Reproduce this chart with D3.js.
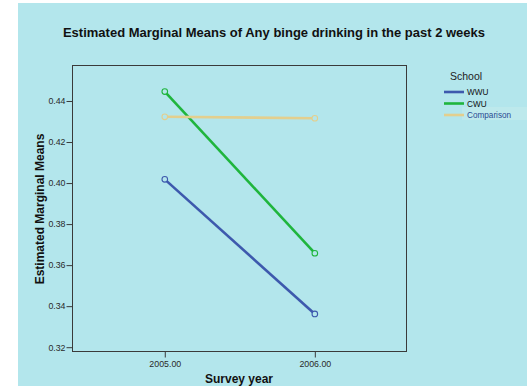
<!DOCTYPE html>
<html>
<head>
<meta charset="utf-8">
<script src="https://cdn.jsdelivr.net/npm/d3@7"></script>
<style>
  html, body { margin: 0; padding: 0; background: #ffffff; }
  svg { display: block; font-family: "Liberation Sans", Arial, sans-serif; }
</style>
</head>
<body>
<svg id="chart" width="527" height="386"></svg>
<script>
// Survey years on the x axis
const years = [2005, 2006];
// Estimated marginal means per school
const wwuValues = [0.4018, 0.3362];
const cwuValues = [0.4446, 0.3658];
const comparisonValues = [0.4323, 0.4316];
const schools = ["WWU", "CWU", "Comparison"];
const schoolColors = ["#3d59ad", "#1fb53d", "#e3cf8e"];
const yTicks = [0.32, 0.34, 0.36, 0.38, 0.40, 0.42, 0.44];
const xTicks = [2005, 2006];

const series = [wwuValues, cwuValues, comparisonValues].map((vals, i) => ({
  name: schools[i],
  color: schoolColors[i],
  points: years.map((yr, j) => ({ year: yr, value: vals[j] }))
}));

const svg = d3.select("#chart");

// panel background
svg.append("rect")
  .attr("x", 18).attr("y", 3)
  .attr("width", 509).attr("height", 383)
  .attr("fill", "#b3e6ec");

const plot = { left: 72.5, right: 406.5, top: 65.5, bottom: 351.5 };

const x = d3.scaleLinear()
  .domain([2004.385, 2006.611])
  .range([plot.left, plot.right]);
const y = d3.scaleLinear()
  .domain([0.3179, 0.4573])
  .range([plot.bottom, plot.top]);

// plot frame
svg.append("rect")
  .attr("x", plot.left).attr("y", plot.top)
  .attr("width", plot.right - plot.left).attr("height", plot.bottom - plot.top)
  .attr("fill", "none").attr("stroke", "#3a3a3a").attr("stroke-width", 1);

// y axis
const yAxis = svg.append("g")
  .attr("transform", `translate(${plot.left},0)`)
  .call(d3.axisLeft(y).tickValues(yTicks).tickFormat(d3.format(".2f")).tickSize(6).tickPadding(1));
yAxis.select(".domain").remove();
yAxis.selectAll(".tick line").attr("stroke", "#3a3a3a");
yAxis.selectAll(".tick text")
  .attr("fill", "#2a2a2a").attr("font-size", "8.8px")
  .attr("font-family", "Liberation Sans, Arial, sans-serif");

// x axis
const xAxis = svg.append("g")
  .attr("transform", `translate(0,${plot.bottom})`)
  .call(d3.axisBottom(x).tickValues(xTicks).tickFormat(d3.format(".2f")).tickSize(6).tickPadding(3));
xAxis.select(".domain").remove();
xAxis.selectAll(".tick line").attr("stroke", "#3a3a3a");
xAxis.selectAll(".tick text")
  .attr("fill", "#2a2a2a").attr("font-size", "8.8px")
  .attr("font-family", "Liberation Sans, Arial, sans-serif");

// lines and markers
const line = d3.line().x(d => x(d.year)).y(d => y(d.value));
const g = svg.append("g");
series.forEach(s => {
  g.append("path")
    .datum(s.points)
    .attr("d", line)
    .attr("fill", "none")
    .attr("stroke", s.color)
    .attr("stroke-width", 2.6);
  g.selectAll(null)
    .data(s.points)
    .join("circle")
    .attr("cx", d => x(d.year))
    .attr("cy", d => y(d.value))
    .attr("r", 2.8)
    .attr("fill", "#b3e6ec")
    .attr("stroke", s.color)
    .attr("stroke-width", 1.1);
});

// title
svg.append("text")
  .attr("x", 274).attr("y", 37)
  .attr("text-anchor", "middle")
  .attr("font-size", "13px").attr("font-weight", "bold")
  .attr("fill", "#111")
  .text("Estimated Marginal Means of Any binge drinking in the past 2 weeks");

// axis titles
svg.append("text")
  .attr("transform", "translate(44,209) rotate(-90)")
  .attr("text-anchor", "middle")
  .attr("font-size", "12px").attr("font-weight", "bold")
  .attr("fill", "#111")
  .text("Estimated Marginal Means");

svg.append("text")
  .attr("x", 239).attr("y", 383)
  .attr("text-anchor", "middle")
  .attr("font-size", "12px").attr("font-weight", "bold")
  .attr("fill", "#111")
  .text("Survey year");

// legend
const legend = svg.append("g");
legend.append("text")
  .attr("x", 450).attr("y", 80)
  .attr("font-size", "10.5px").attr("fill", "#222")
  .text("School");
legend.append("rect")
  .attr("x", 462).attr("y", 107)
  .attr("width", 65).attr("height", 13)
  .attr("fill", "#bde9ec");
schools.forEach((name, i) => {
  const ly = 92 + i * 11.5;
  legend.append("line")
    .attr("x1", 444).attr("x2", 464)
    .attr("y1", ly).attr("y2", ly)
    .attr("stroke", schoolColors[i]).attr("stroke-width", 2.6);
  legend.append("text")
    .attr("x", 467).attr("y", ly + 3)
    .attr("font-size", "8.2px")
    .attr("fill", i === 2 ? "#2b4c93" : "#111")
    .text(name);
});
</script>
</body>
</html>
